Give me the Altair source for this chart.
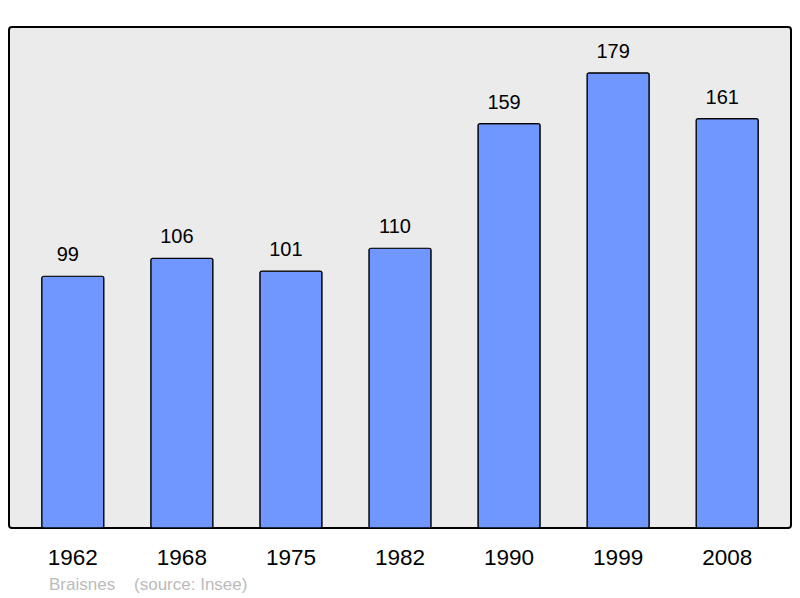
import altair as alt
import pandas as pd

years = ["1962", "1968", "1975", "1982", "1990", "1999", "2008"]
population = [99, 106, 101, 110, 159, 179, 161]
footer = "Braisnes\u00a0\u00a0\u00a0\u00a0(source: Insee)"

df = pd.DataFrame({"year": years, "pop": population})

x = alt.X("year:N", sort=years, title=None,
          scale=alt.Scale(paddingInner=0.43, paddingOuter=0.3),
          axis=alt.Axis(labelAngle=0, labelFontSize=22.5, labelColor="#000000",
                        labelFont="Liberation Sans", ticks=False, domain=False,
                        labelPadding=18, grid=False))
y = alt.Y("pop:Q", title=None, scale=alt.Scale(domain=[0, 197], nice=False, zero=True),
          axis=None)

bars = alt.Chart(df).mark_bar(color="#7096FF", stroke="#000000", strokeWidth=1.2,
                              cornerRadius=2).encode(x=x, y=y)
labels = alt.Chart(df).mark_text(baseline="alphabetic", dy=-15, dx=-5, fontSize=20,
                                 font="Liberation Sans", color="#000000").encode(
    x=x, y=y, text="pop:Q")

chart = alt.layer(bars, labels).properties(
    width=782, height=501,
    autosize=alt.AutoSizeParams(type="none"),
    padding={"left": 1, "top": 19, "right": 1, "bottom": 70},
    title=alt.TitleParams(text=footer, orient="bottom", anchor="start", dx=40,
                          offset=8, fontSize=17, fontWeight="normal",
                          font="Liberation Sans", color="#BBBBBB"),
).configure_view(fill="#EBEBEB", stroke="#000000", strokeWidth=2, cornerRadius=3)

chart.save("out.html", embed_options={"renderer": "svg", "actions": False})
